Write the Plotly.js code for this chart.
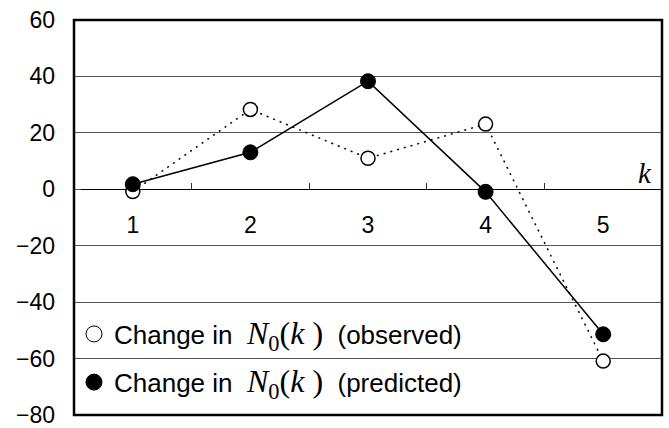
<!DOCTYPE html>
<html>
<head>
<meta charset="utf-8">
<script src="https://cdn.plot.ly/plotly-3.0.1.min.js"></script>
<style>html,body{margin:0;padding:0;background:#fff;}#chart{width:669px;height:428px;}</style>
</head>
<body>
<div id="chart"></div>
<script>
const categories = ['1', '2', '3', '4', '5'];
const observed = [-0.8, 28.3, 11.0, 23.1, -60.9];
const predicted = [1.8, 13.1, 38.3, -0.9, -51.4];
const yTicks = [60, 40, 20, 0, -20, -40, -60, -80];
const yMin = -80, yMax = 60;

const mathPart = '<span style="font-family:\'Liberation Serif\',serif;font-size:32px"><i>N</i><sub>0</sub>(<i>k</i> )</span>';
const obsName = 'Change in  ' + mathPart + '  (observed)';
const predName = 'Change in  ' + mathPart + '  (predicted)';

const traces = [
  {x: categories, y: observed, type: 'scatter', mode: 'lines+markers', showlegend: false,
   line: {color: '#000', width: 1.5, dash: '2px,5px'},
   marker: {symbol: 'circle', size: 14, color: '#fff', line: {color: '#000', width: 1.5}}},
  {x: categories, y: predicted, type: 'scatter', mode: 'lines+markers', showlegend: false,
   line: {color: '#000', width: 1.5},
   marker: {symbol: 'circle', size: 15, color: '#000', line: {color: '#000', width: 1}}},
  {x: [null], y: [null], type: 'scatter', mode: 'markers', name: obsName, legend: 'legend',
   marker: {symbol: 'circle', size: 16, color: '#fff', line: {color: '#000', width: 1}}},
  {x: [null], y: [null], type: 'scatter', mode: 'markers', name: predName, legend: 'legend2',
   marker: {symbol: 'circle', size: 16, color: '#000', line: {color: '#000', width: 1}}}
];

const fontFam = '"Liberation Sans", Arial, sans-serif';
const legendCommon = {xref: 'paper', yref: 'paper', xanchor: 'left', yanchor: 'middle',
  bgcolor: 'rgba(0,0,0,0)', borderwidth: 0, font: {family: fontFam, size: 26, color: '#000'}};

const layout = {
  width: 669, height: 428,
  margin: {l: 74, r: 7, t: 20, b: 13, pad: 0},
  paper_bgcolor: '#fff', plot_bgcolor: '#fff',
  font: {family: fontFam, size: 23, color: '#000'},
  xaxis: {
    type: 'category', categoryorder: 'array', categoryarray: categories,
    range: [-0.5, categories.length - 0.5],
    anchor: 'free', position: (0 - yMin) / (yMax - yMin),
    showgrid: false, zeroline: false, showline: false,
    ticks: 'inside', tickson: 'boundaries', ticklen: 6, tickcolor: '#333', tickwidth: 1,
    ticklabelstandoff: 20,
    tickfont: {family: fontFam, size: 23, color: '#000'}
  },
  yaxis: {
    range: [yMin, yMax], tickvals: yTicks, ticktext: yTicks.map(v => v < 0 ? '\u2212' + Math.abs(v) : String(v)),
    showgrid: true, gridcolor: '#555', gridwidth: 1,
    zeroline: true, zerolinecolor: '#000', zerolinewidth: 1.5,
    showline: false, ticks: 'inside', ticklen: 7, tickcolor: '#555',
    ticklabelstandoff: 18, ticklabeloverflow: 'allow',
    tickfont: {family: fontFam, size: 23, color: '#000'}
  },
  legend: Object.assign({}, legendCommon, {x: 0.0, y: 0.205}),
  legend2: Object.assign({}, legendCommon, {x: 0.0, y: 0.083}),
  shapes: [{type: 'rect', xref: 'paper', yref: 'paper', x0: 0, x1: 1, y0: 0, y1: 1,
    line: {color: '#000', width: 2.5}, layer: 'above'}],
  annotations: [{xref: 'paper', yref: 'y', x: 1, y: 0, xanchor: 'right', yanchor: 'bottom',
    xshift: -8, yshift: -2, showarrow: false, text: '<i>k</i>',
    font: {family: '"Liberation Serif", serif', size: 29, color: '#000'}}]
};

Plotly.newPlot('chart', traces, layout, {displayModeBar: false, staticPlot: true});
</script>
</body>
</html>
